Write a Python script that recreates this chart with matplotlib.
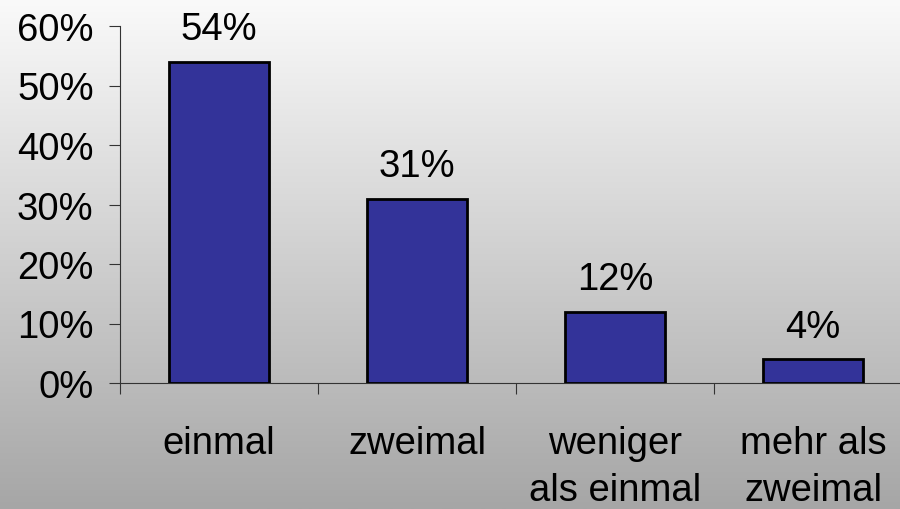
import numpy as np
import matplotlib
matplotlib.use("Agg")
import matplotlib.pyplot as plt

categories = ["einmal", "zweimal", "weniger\nals einmal", "mehr als\nzweimal"]
values = [54, 31, 12, 4]
value_labels = ["54%", "31%", "12%", "4%"]
yticks = [0, 10, 20, 30, 40, 50, 60]
ytick_labels = ["0%", "10%", "20%", "30%", "40%", "50%", "60%"]

plt.rcParams['font.family'] = ['Liberation Sans', 'DejaVu Sans']
FS = 27.5

fig = plt.figure(figsize=(9, 5.1), dpi=100)

# gradient background
bg = fig.add_axes([0, 0, 1, 1], zorder=-10)
grad = np.linspace(250, 166, 256)[:, None] / 255.0
bg.imshow(np.repeat(grad[:, :, None], 3, axis=2), aspect='auto', extent=[0, 1, 0, 1])
bg.set_axis_off()

ax = fig.add_axes([120/900, 126/510, 792/900, 357/510])
ax.patch.set_alpha(0)

x = np.arange(len(categories))
ax.bar(x, values, width=0.505, color='#333399', edgecolor='black', linewidth=2.0, zorder=3)
for xi, v, lab in zip(x, values, value_labels):
    ax.annotate(lab, (xi, v), xytext=(0, 16), textcoords='offset points',
                ha='center', va='baseline', fontsize=FS, color='black')

ax.set_xlim(-0.5, 3.5)
ax.set_ylim(0, 60)
ax.set_yticks(yticks)
ax.set_yticklabels(ytick_labels, fontsize=FS)
ax.set_xticks(x)
ax.set_xticklabels(categories, fontsize=FS, linespacing=1.42)
ax.set_xticks(np.arange(-0.5, 4.0, 1.0), minor=True)
ax.tick_params(axis='x', which='major', length=0, pad=30)
ax.tick_params(axis='x', which='minor', length=8, width=0.8, color='#333333', direction='out')
ax.tick_params(axis='y', length=8, width=0.8, color='#333333', pad=11)

for s in ['top', 'right']:
    ax.spines[s].set_visible(False)
for s in ['left', 'bottom']:
    ax.spines[s].set_color('#333333')
    ax.spines[s].set_linewidth(0.8)

fig.savefig('out.png', dpi=100)
